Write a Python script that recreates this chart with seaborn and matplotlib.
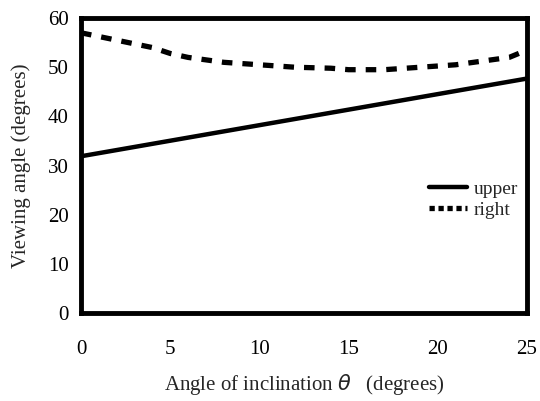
import matplotlib
matplotlib.use("Agg")
import matplotlib.pyplot as plt
import seaborn as sns
import pandas as pd

upper_x = [0, 25]
upper_y = [31.9, 47.7]
right_x = [0, 2, 4, 5, 6, 8, 10, 12, 14, 15, 17, 19, 21, 23, 24, 25]
right_y = [57, 55.5, 54, 52.8, 52, 51, 50.5, 50, 49.8, 49.5, 49.5, 50, 50.5, 51.5, 52, 53.5]
x_ticks = [0, 5, 10, 15, 20, 25]
y_ticks = [0, 10, 20, 30, 40, 50, 60]

sns.set_theme(style="white")
plt.rcParams['font.family'] = ['Liberation Serif', 'DejaVu Serif']
plt.rcParams['lines.dash_capstyle'] = 'butt'

fig = plt.figure(figsize=(5.4, 4.01), dpi=100)
ax = fig.add_axes([0.15, 0.219, 0.826, 0.736])

df_u = pd.DataFrame({"x": upper_x, "y": upper_y})
df_r = pd.DataFrame({"x": right_x, "y": right_y})
sns.lineplot(data=df_u, x="x", y="y", ax=ax, color="black", lw=3.2, label="upper")
sns.lineplot(data=df_r, x="x", y="y", ax=ax, color="black", lw=3.8,
             linestyle=(0, (2.0, 1.9)), label="right")

ax.set_xlim(0, 25)
ax.set_ylim(0, 60)
ax.set_xticks(x_ticks)
ax.set_yticks(y_ticks)
ax.tick_params(direction="in", length=5, width=0.8, labelsize=15, colors="black")
ax.tick_params(axis="x", pad=19)
ax.tick_params(axis="y", pad=9)
for s in ax.spines.values():
    s.set_linewidth(3.5)
    s.set_color("black")
ax.set_xlabel("Angle of inclination $\\theta$   (degrees)", fontsize=15, labelpad=10)
ax.set_ylabel("Viewing angle (degrees)", fontsize=15, labelpad=12)

leg = ax.legend(loc="center left", bbox_to_anchor=(0.74, 0.385), frameon=False,
                fontsize=14, handlelength=2.0, handletextpad=0.3, labelspacing=0.15)
leg.get_lines()[1].set_linestyle((0, (1.0, 0.7)))

fig.savefig("out.png", dpi=100)
